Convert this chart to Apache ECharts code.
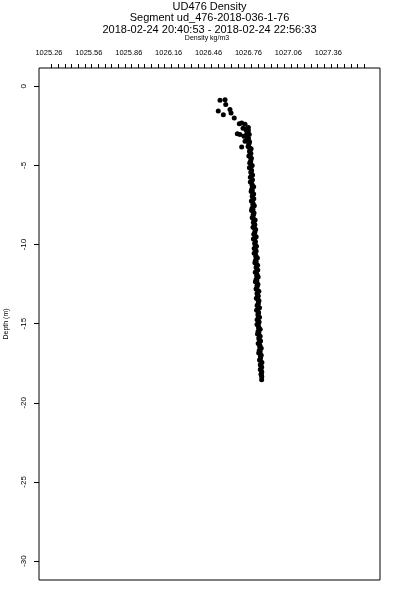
<!DOCTYPE html>
<html><head><meta charset="utf-8">
<script src="https://cdn.jsdelivr.net/npm/echarts@6/dist/echarts.min.js"></script>
<style>html,body{margin:0;padding:0;background:#fff}#c{width:400px;height:600px}</style>
</head><body><div id="c"></div>
<script>
var titleLines = ['UD476 Density', 'Segment ud_476-2018-036-1-76', '2018-02-24 20:40:53 - 2018-02-24 22:56:33'];
var xAxisName = 'Density kg/m3';
var yAxisName = 'Depth (m)';
var xLabels = [1025.26, 1025.56, 1025.86, 1026.16, 1026.46, 1026.76, 1027.06, 1027.36];
var yLabels = [0, -5, -10, -15, -20, -25, -30];
var xTickStart = 1025.28, xTickStep = 0.05, xTickCount = 48;

// top scatter (near surface)
var densityTop = [1026.546,1026.584,1026.589,1026.533,1026.571,1026.621,1026.629,1026.653,1026.691,1026.709,1026.734,1026.676,1026.759,1026.709,1026.719,1026.747,1026.759,1026.696,1026.726,1026.734];
var depthTop   = [-0.88,-0.84,-1.14,-1.56,-1.79,-1.47,-1.69,-2.00,-2.36,-2.32,-2.40,-2.99,-2.78,-3.83,-2.65,-2.99,-3.30,-3.05,-3.16,-3.47];

// main column
var depthCol = [-2.60,-2.75,-2.90,-3.05,-3.20,-3.35,-3.50,-3.65,-3.80,-3.95,-4.10,-4.25,-4.40,-4.55,-4.70,-4.85,-5.00,-5.15,-5.30,-5.45,-5.60,-5.75,-5.90,-6.05,-6.20,-6.35,-6.50,-6.65,-6.80,-6.95,-7.10,-7.25,-7.40,-7.55,-7.70,-7.85,-8.00,-8.15,-8.30,-8.45,-8.60,-8.75,-8.90,-9.05,-9.20,-9.35,-9.50,-9.65,-9.80,-9.95,-10.10,-10.25,-10.40,-10.55,-10.70,-10.85,-11.00,-11.15,-11.30,-11.45,-11.60,-11.75,-11.90,-12.05,-12.20,-12.35,-12.50,-12.65,-12.80,-12.95,-13.10,-13.25,-13.40,-13.55,-13.70,-13.85,-14.00,-14.15,-14.30,-14.45,-14.60,-14.75,-14.90,-15.05,-15.20,-15.35,-15.50,-15.65,-15.80,-15.95,-16.10,-16.25,-16.40,-16.55,-16.70,-16.85,-17.00,-17.15,-17.30,-17.45,-17.60,-17.75,-17.90,-18.05,-18.20,-18.35,-18.55];
var densityCol = [1026.759,1026.741,1026.756,1026.766,1026.751,1026.748,1026.768,1026.763,1026.757,1026.780,1026.768,1026.778,1026.763,1026.782,1026.777,1026.769,1026.788,1026.767,1026.783,1026.778,1026.791,1026.774,1026.790,1026.774,1026.787,1026.799,1026.784,1026.780,1026.799,1026.788,1026.800,1026.782,1026.795,1026.804,1026.787,1026.783,1026.802,1026.796,1026.788,1026.810,1026.797,1026.808,1026.794,1026.814,1026.808,1026.800,1026.818,1026.797,1026.812,1026.807,1026.820,1026.803,1026.818,1026.803,1026.816,1026.827,1026.812,1026.808,1026.829,1026.817,1026.830,1026.811,1026.825,1026.833,1026.817,1026.812,1026.831,1026.825,1026.817,1026.838,1026.824,1026.834,1026.819,1026.839,1026.834,1026.825,1026.843,1026.821,1026.836,1026.831,1026.843,1026.825,1026.840,1026.824,1026.837,1026.848,1026.832,1026.828,1026.848,1026.838,1026.851,1026.833,1026.847,1026.856,1026.841,1026.837,1026.856,1026.851,1026.843,1026.861,1026.849,1026.859,1026.849,1026.860,1026.854,1026.860,1026.859];

// in-fill of the column (between the rows above)
var depthFill = [-2.68,-2.98,-3.28,-3.58,-3.88,-4.18,-4.48,-4.78,-5.08,-5.38,-5.68,-5.98,-6.28,-6.58,-6.88,-7.18,-7.48,-7.78,-8.08,-8.38,-8.68,-8.98,-9.28,-9.58,-9.88,-10.18,-10.48,-10.78,-11.08,-11.38,-11.68,-11.98,-12.28,-12.58,-12.88,-13.18,-13.48,-13.78,-14.08,-14.38,-14.68,-14.98,-15.28,-15.58,-15.88,-16.18,-16.48,-16.78,-17.08,-17.38,-17.68,-17.98,-18.28];
var densityFill = [1026.750,1026.756,1026.758,1026.764,1026.767,1026.772,1026.775,1026.776,1026.778,1026.780,1026.782,1026.784,1026.788,1026.789,1026.791,1026.791,1026.793,1026.794,1026.796,1026.798,1026.803,1026.806,1026.806,1026.808,1026.809,1026.811,1026.813,1026.816,1026.818,1026.820,1026.821,1026.822,1026.823,1026.825,1026.827,1026.829,1026.831,1026.832,1026.832,1026.833,1026.833,1026.835,1026.836,1026.838,1026.840,1026.843,1026.845,1026.848,1026.850,1026.853,1026.854,1026.856,1026.858];

var pts = [];
densityTop.forEach(function(v,i){ pts.push([v, depthTop[i]]); });
densityCol.forEach(function(v,i){ pts.push([v, depthCol[i]]); });
densityFill.forEach(function(v,i){ pts.push([v, depthFill[i]]); });
var xTicks = [];
for (var k = 0; k < xTickCount; k++) xTicks.push(+(xTickStart + k*xTickStep).toFixed(3));

var FONT = 'Liberation Sans';
var chart = echarts.init(document.getElementById('c'), null, {renderer:'canvas'});
chart.setOption({
  animation: false,
  backgroundColor: '#fff',
  graphic: [
    {type:'text', x:209.5, y:7, style:{text:titleLines[0], font:'11px "Liberation Sans"', fill:'#000', textAlign:'center', textVerticalAlign:'middle'}},
    {type:'text', x:209.5, y:18, style:{text:titleLines[1], font:'11px "Liberation Sans"', fill:'#000', textAlign:'center', textVerticalAlign:'middle'}},
    {type:'text', x:209.5, y:29.5, style:{text:titleLines[2], font:'11px "Liberation Sans"', fill:'#000', textAlign:'center', textVerticalAlign:'middle'}},
    {type:'text', x:207, y:38, style:{text:xAxisName, font:'7px "Liberation Sans"', fill:'#000', textAlign:'center', textVerticalAlign:'middle'}}
  ],
  grid: {left:39, right:20, top:68, bottom:20, show:true, borderColor:'#000', borderWidth:1,
         backgroundColor:'transparent', outerBoundsMode:'none', containLabel:false},
  xAxis: {
    type:'value', position:'top', min:1025.185, max:1027.749,
    axisLine:{show:false, onZero:false},
    splitLine:{show:false},
    axisTick:{show:true, inside:false, length:4, customValues:xTicks, lineStyle:{color:'#000', width:1}},
    axisLabel:{show:true, customValues:xLabels, margin:11, fontFamily:FONT, fontSize:7.5, color:'#000',
      formatter:function(v){return v.toFixed(2);}}
  },
  yAxis: {
    type:'value', min:-31.2, max:1.16,
    name:yAxisName, nameLocation:'middle', nameGap:29, nameRotate:90,
    nameTextStyle:{fontFamily:FONT, fontSize:7, color:'#000'},
    axisLine:{show:false, onZero:false},
    splitLine:{show:false},
    axisTick:{show:true, inside:false, length:5, customValues:yLabels, lineStyle:{color:'#000', width:1}},
    axisLabel:{show:true, customValues:yLabels, rotate:90, margin:11, fontFamily:FONT, fontSize:8, color:'#000'}
  },
  series: [{
    type:'scatter', data:pts, symbol:'circle', symbolSize:5,
    itemStyle:{color:'#000', opacity:1}, silent:true
  }]
});
</script></body></html>
